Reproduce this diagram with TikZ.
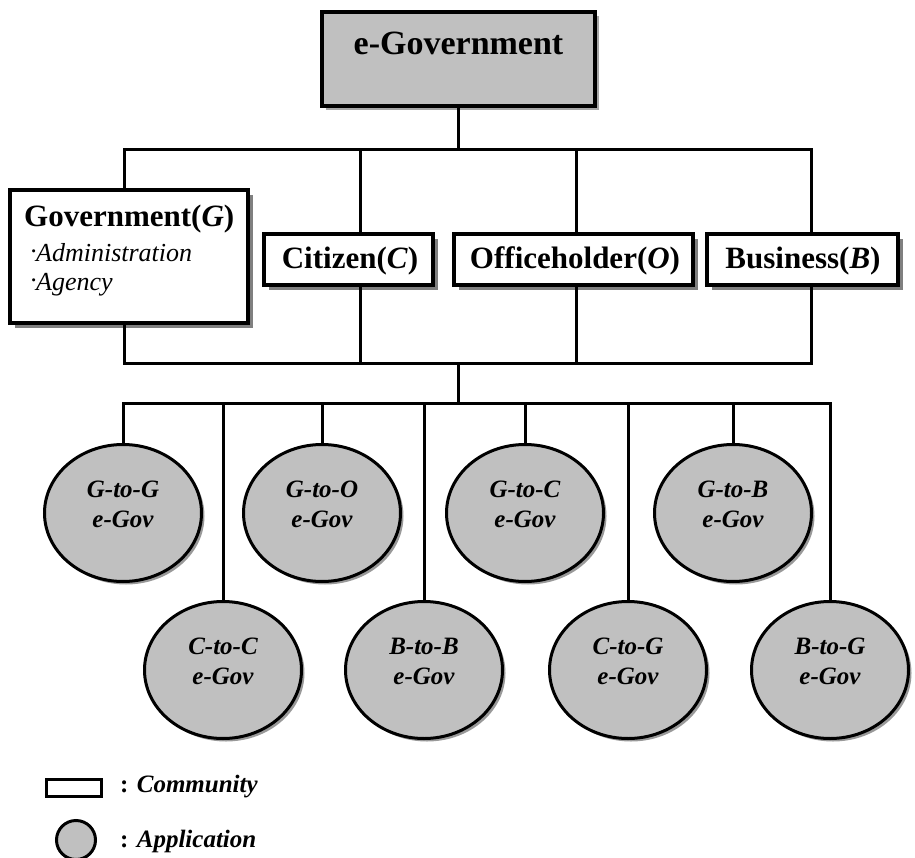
\documentclass[tikz,border=0pt]{standalone}
\usepackage{fontspec}
\setmainfont{Liberation Serif}
\usetikzlibrary{shapes.geometric,shadows}
\definecolor{appgray}{HTML}{C0C0C0}
\definecolor{shadowgray}{HTML}{808080}
\newcommand\mydot{\smash{\raisebox{0.35em}{.}}\kern-0.06em}
\begin{document}
\begin{tikzpicture}[x=1pt,y=-1pt,
  conn/.style={line width=3pt},
  basebox/.style={draw, line width=4pt, fill=white, rectangle, inner sep=0pt},
  community/.style={basebox, drop shadow={shadow xshift=5pt, shadow yshift=-5pt, fill=shadowgray, opacity=1}},
  topbox/.style={basebox, fill=appgray, drop shadow={shadow xshift=4pt, shadow yshift=-4pt, fill=black!35, opacity=1}},
  app/.style={draw, line width=3pt, fill=appgray, ellipse, inner sep=0pt, minimum width=157pt, minimum height=137pt, drop shadow={shadow xshift=3pt, shadow yshift=-3pt, fill=black!40, opacity=1}},
  boxlabel/.style={font=\fontsize{31}{37}\selectfont\bfseries, inner sep=0pt},
  sublabel/.style={font=\fontsize{26}{30}\selectfont\itshape, inner sep=0pt},
  applabel/.style={font=\fontsize{25}{30}\selectfont\bfseries\itshape, align=center, inner sep=0pt},
  legendlabel/.style={font=\fontsize{25}{30}\selectfont\bfseries, inner sep=0pt},
  ]
\useasboundingbox (0,0) rectangle (915,858);

% bar levels and connector columns
\coordinate (tb) at (0,150);
\coordinate (mb) at (0,363);
\coordinate (bb) at (0,403);
\coordinate (xG) at (124,0);
\coordinate (xC) at (360,0);
\coordinate (xO) at (576,0);
\coordinate (xB) at (811,0);

% top node
\node[topbox, minimum width=273pt, minimum height=94pt] (eg) at (458.5,59) {};
\node[boxlabel, anchor=base] (egt) at (458.5,55) {\fontsize{34}{40}\selectfont e-Government};

% communities
\node[community, minimum width=238pt, minimum height=133pt] (gov) at (129,256.5) {};
\node[boxlabel, anchor=base west, text depth=0pt] (govt) at (24,227) {Government(\textit{G})};
\node[sublabel, anchor=base west, text height=12pt] (gova) at (31,262) {\mydot Administration};
\node[sublabel, anchor=base west, text height=12pt] (govb) at (31,291) {\mydot Agency};

\node[community, minimum width=169pt, minimum height=51pt] (cit) at (348.5,259.5) {};
\node[boxlabel, anchor=base] (citt) at (350,269) {Citizen(\textit{C})};

\node[community, minimum width=239pt, minimum height=51pt] (off) at (573.5,259.5) {};
\node[boxlabel, anchor=base] (offt) at (575,269) {Officeholder(\textit{O})};

\node[community, minimum width=191pt, minimum height=51pt] (bus) at (802.5,259.5) {};
\node[boxlabel, anchor=base] (bust) at (803,269) {Business(\textit{B})};

% applications
\node[app] (a1) at (123,513) {};
\node[applabel] (a1t) at (123,504) {G-to-G\\e-Gov};
\node[app] (a2) at (223,670) {};
\node[applabel] (a2t) at (223,661) {C-to-C\\e-Gov};
\node[app] (a3) at (322,513) {};
\node[applabel] (a3t) at (322,504) {G-to-O\\e-Gov};
\node[app] (a4) at (424,670) {};
\node[applabel] (a4t) at (424,661) {B-to-B\\e-Gov};
\node[app] (a5) at (525,513) {};
\node[applabel] (a5t) at (525,504) {G-to-C\\e-Gov};
\node[app] (a6) at (628,670) {};
\node[applabel] (a6t) at (628,661) {C-to-G\\e-Gov};
\node[app] (a7) at (733,513) {};
\node[applabel] (a7t) at (733,504) {G-to-B\\e-Gov};
\node[app] (a8) at (830,670) {};
\node[applabel] (a8t) at (830,661) {B-to-G\\e-Gov};

% connectors
\draw[conn] (eg.south) -- (eg.south |- tb);
\draw[conn] (xG |- gov.north) -- (xG |- tb) -- (xB |- tb) -- (xB |- bus.north);
\draw[conn] (xC |- tb) -- (xC |- cit.north);
\draw[conn] (xO |- tb) -- (xO |- off.north);
\draw[conn] (xG |- gov.south) -- (xG |- mb) -- (xB |- mb) -- (xB |- bus.south);
\draw[conn] (xC |- cit.south) -- (xC |- mb);
\draw[conn] (xO |- off.south) -- (xO |- mb);
\draw[conn] (eg.south |- mb) -- (eg.south |- bb);
\draw[conn] (a1.north) -- (a1.north |- bb) -- (a8.north |- bb) -- (a8.north);
\draw[conn] (a2.north) -- (a2.north |- bb);
\draw[conn] (a3.north) -- (a3.north |- bb);
\draw[conn] (a4.north) -- (a4.north |- bb);
\draw[conn] (a5.north) -- (a5.north |- bb);
\draw[conn] (a6.north) -- (a6.north |- bb);
\draw[conn] (a7.north) -- (a7.north |- bb);

% legend
\node[draw, line width=3pt, fill=white, rectangle, minimum width=55pt, minimum height=17pt, inner sep=0pt] (lcom) at (74,788) {};
\node[legendlabel, anchor=base west] (lcomt) at (120,792) {: \textit{Community}};
\node[draw, circle, line width=3pt, fill=appgray, minimum size=39pt, inner sep=0pt] (lapp) at (76,840) {};
\node[legendlabel, anchor=base west] (lappt) at (120,847) {: \textit{Application}};
\end{tikzpicture}
\end{document}
